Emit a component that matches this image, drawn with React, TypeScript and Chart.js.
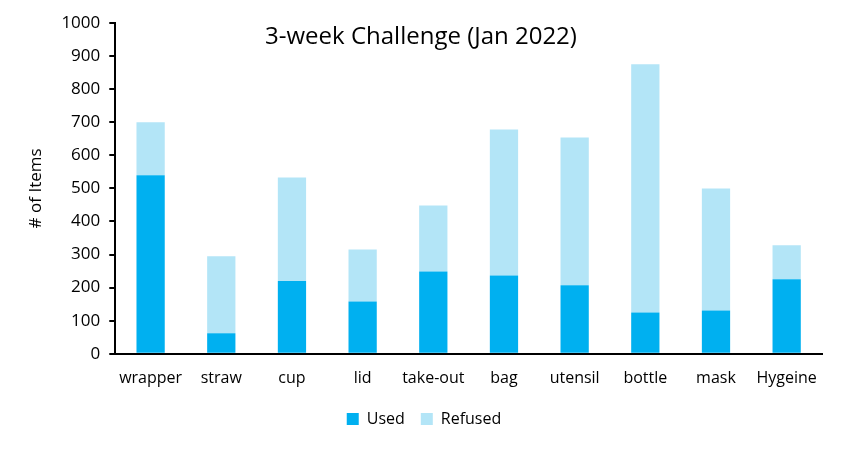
import React, { useEffect, useRef } from "react";
import { Chart, registerables } from "chart.js";

Chart.register(...registerables);

const categories = ["wrapper", "straw", "cup", "lid", "take-out", "bag", "utensil", "bottle", "mask", "Hygeine"];
const usedValues = [540, 62, 220, 158, 249, 237, 207, 125, 131, 225];
const refusedValues = [160, 233, 313, 157, 199, 441, 447, 750, 369, 103];
const titleText = "3-week Challenge (Jan 2022)";
const yAxisTitle = "# of Items";

const FONT = "'Open Sans', 'Noto Sans', sans-serif";

const titlePlugin = {
  id: "innerTitle",
  afterDraw(chart: any) {
    const ctx = chart.ctx;
    ctx.save();
    ctx.font = `24px ${FONT}`;
    ctx.fillStyle = "#000";
    ctx.textAlign = "center";
    ctx.textBaseline = "middle";
    ctx.fillText(titleText, 421, 37);
    ctx.restore();
  },
};

export default function App() {
  const ref = useRef<HTMLCanvasElement>(null);
  useEffect(() => {
    document.body.style.margin = "0";
    const chart = new Chart(ref.current!, {
      type: "bar",
      data: {
        labels: categories,
        datasets: [
          { label: "Used", data: usedValues, backgroundColor: "#00B0F0", categoryPercentage: 1, barPercentage: 0.4 },
          { label: "Refused", data: refusedValues, backgroundColor: "#B3E5F7", categoryPercentage: 1, barPercentage: 0.4 },
        ],
      },
      options: {
        animation: false,
        responsive: false,
        layout: { padding: { top: 23, right: 22, bottom: 12, left: 26 } },
        plugins: {
          title: { display: false },
          tooltip: { enabled: false },
          legend: {
            position: "bottom",
            labels: {
              boxWidth: 12,
              boxHeight: 12,
              padding: 16,
              color: "#000",
              font: { family: FONT, size: 16 },
            },
          },
        },
        scales: {
          x: {
            stacked: true,
            grid: { display: false },
            border: { display: true, color: "#000", width: 2 },
            ticks: { color: "#000", font: { family: FONT, size: 16 }, padding: 7 },
          },
          y: {
            stacked: true,
            min: 0,
            max: 1000,
            ticks: {
              stepSize: 100,
              color: "#000",
              font: { family: FONT, size: 17 },
              padding: 9,
              callback: (v: any) => String(v),
            },
            grid: { drawOnChartArea: false, drawTicks: true, tickLength: 6, color: "#000", lineWidth: 2 },
            border: { display: true, color: "#000", width: 2 },
            title: { display: true, text: yAxisTitle, color: "#000", font: { family: FONT, size: 17 }, padding: { top: 0, bottom: 6 } },
          },
        },
      },
      plugins: [titlePlugin],
    });
    return () => chart.destroy();
  }, []);
  return (
    <div style={{ position: "fixed", left: 0, top: 0, width: 844, height: 449, background: "#fff" }}>
      <canvas ref={ref} width={844} height={449} style={{ width: 844, height: 449 }} />
    </div>
  );
}
